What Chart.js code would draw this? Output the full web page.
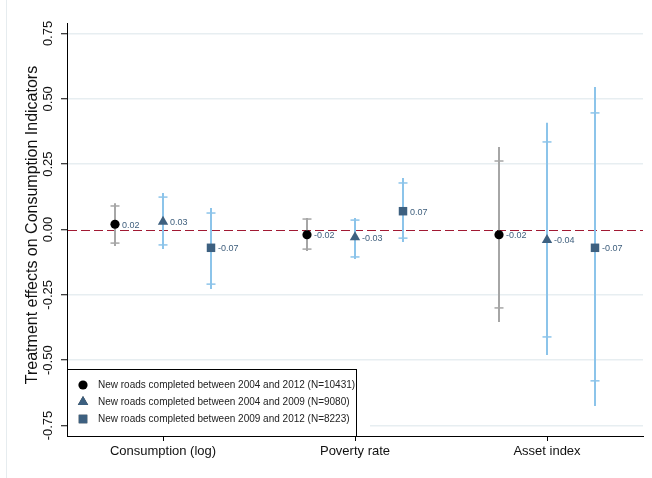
<!DOCTYPE html>
<html>
<head>
<meta charset="utf-8">
<script src="https://cdn.jsdelivr.net/npm/chart.js@4/dist/chart.umd.min.js"></script>
<style>
  html, body { margin: 0; padding: 0; background: #ffffff; }
  canvas { display: block; }
</style>
</head>
<body>
<canvas id="c" width="652" height="478"></canvas>
<script>
// Outcome categories along the x axis
const categories = ['Consumption (log)', 'Poverty rate', 'Asset index'];

// Sample definitions shown in the legend
const seriesLabels = [
  'New roads completed between 2004 and 2012 (N=10431)',
  'New roads completed between 2004 and 2009 (N=9080)',
  'New roads completed between 2009 and 2012 (N=8223)'
];

// Point estimates per sample (one value per category)
const coef2004_2012 = [0.02, -0.02, -0.02];
const coef2004_2009 = [0.03, -0.03, -0.04];
const coef2009_2012 = [-0.07, 0.07, -0.07];

// Wide confidence interval (line ends): [low, high] per category
const wide2004_2012 = [[-0.063, 0.100], [-0.082, 0.044], [-0.354, 0.316]];
const wide2004_2009 = [[-0.075, 0.140], [-0.113, 0.044], [-0.480, 0.408]];
const wide2009_2012 = [[-0.228, 0.082], [-0.048, 0.197], [-0.675, 0.545]];

// Narrow confidence interval (cap marks): [low, high] per category
const narrow2004_2012 = [[-0.052, 0.090], [-0.075, 0.040], [-0.300, 0.262]];
const narrow2004_2009 = [[-0.059, 0.124], [-0.105, 0.036], [-0.411, 0.335]];
const narrow2009_2012 = [[-0.209, 0.063], [-0.033, 0.178], [-0.579, 0.446]];

// Y axis tick values
const yTicks = [-0.75, -0.5, -0.25, 0, 0.25, 0.5, 0.75];

const FONT = "'Liberation Sans', Arial, Helvetica, sans-serif";
const markerColor = '#3d6080';
const ciBlue = '#8cc4ea';
const ciGray = '#a6a6a6';

const groups = [
  { label: seriesLabels[0], coef: coef2004_2012, wide: wide2004_2012, narrow: narrow2004_2012,
    offset: -0.25, style: 'circle', radius: 4.6, fill: '#000000', ci: ciGray },
  { label: seriesLabels[1], coef: coef2004_2009, wide: wide2004_2009, narrow: narrow2004_2009,
    offset: 0, style: 'triangle', radius: 6, fill: markerColor, ci: ciBlue },
  { label: seriesLabels[2], coef: coef2009_2012, wide: wide2009_2012, narrow: narrow2009_2012,
    offset: 0.25, style: 'rect', radius: 6, fill: markerColor, ci: ciBlue }
];

const datasets = groups.map(g => ({
  label: g.label,
  data: g.coef.map((v, i) => ({ x: i + 1 + g.offset, y: v })),
  pointStyle: g.style,
  pointRadius: g.radius,
  pointBorderWidth: 0,
  backgroundColor: g.fill,
  borderColor: g.fill,
  ciColor: g.ci,
  wide: g.wide,
  narrow: g.narrow
}));

// Zero reference line and confidence intervals, drawn under the markers
const intervalPlugin = {
  id: 'intervals',
  beforeDatasetsDraw(chart) {
    const { ctx, chartArea, scales: { x, y } } = chart;
    ctx.save();
    // dashed zero line
    ctx.strokeStyle = '#a11a33';
    ctx.lineWidth = 1;
    ctx.setLineDash([9, 4]);
    const y0 = Math.round(y.getPixelForValue(0)) + 0.5;
    ctx.beginPath();
    ctx.moveTo(chartArea.left + 1, y0);
    ctx.lineTo(chartArea.right, y0);
    ctx.stroke();
    ctx.setLineDash([]);

    chart.data.datasets.forEach(ds => {
      ds.data.forEach((pt, i) => {
        const px = x.getPixelForValue(pt.x);
        ctx.strokeStyle = ds.ciColor;
        ctx.lineWidth = 2;
        ctx.beginPath();
        ctx.moveTo(px, y.getPixelForValue(ds.wide[i][0]));
        ctx.lineTo(px, y.getPixelForValue(ds.wide[i][1]));
        ctx.stroke();
        ctx.lineWidth = 1.5;
        ds.narrow[i].forEach(v => {
          const py = y.getPixelForValue(v);
          ctx.beginPath();
          ctx.moveTo(px - 4.5, py);
          ctx.lineTo(px + 4.5, py);
          ctx.stroke();
        });
      });
    });
    ctx.restore();
  },
  afterDatasetsDraw(chart) {
    const { ctx, scales: { x, y } } = chart;
    ctx.save();
    ctx.font = '9px ' + FONT;
    ctx.fillStyle = '#40607e';
    ctx.textAlign = 'left';
    ctx.textBaseline = 'middle';
    chart.data.datasets.forEach(ds => {
      ds.data.forEach(pt => {
        ctx.fillText(pt.y.toFixed(2), x.getPixelForValue(pt.x) + 7, y.getPixelForValue(pt.y) + 1);
      });
    });
    ctx.restore();
  }
};

// Rotated y tick labels, axis title and the inset legend
const annotationPlugin = {
  id: 'annotations',
  afterDraw(chart) {
    const { ctx, chartArea, scales: { y } } = chart;
    ctx.save();
    ctx.fillStyle = '#111111';
    ctx.textAlign = 'center';
    ctx.textBaseline = 'middle';
    ctx.font = '13px ' + FONT;
    yTicks.forEach(v => {
      ctx.save();
      ctx.translate(48, y.getPixelForValue(v));
      ctx.rotate(-Math.PI / 2);
      ctx.fillText(v.toFixed(2), 0, 0);
      ctx.restore();
    });

    ctx.font = '16px ' + FONT;
    ctx.save();
    ctx.translate(33, 225);
    ctx.rotate(-Math.PI / 2);
    ctx.fillText('Treatment effects on Consumption Indicators', 0, 0);
    ctx.restore();

    // legend box
    const bx = chartArea.left, by = 369, bw = 356 - chartArea.left, bh = chartArea.bottom - 369;
    ctx.fillStyle = '#ffffff';
    ctx.fillRect(bx, by, bw + 14, bh);
    ctx.strokeStyle = '#000000';
    ctx.lineWidth = 1;
    ctx.strokeRect(bx + 0.5, by + 0.5, bw, bh);

    const rows = [385, 402, 419];
    ctx.font = '10px ' + FONT;
    ctx.textAlign = 'left';
    chart.data.datasets.forEach((ds, i) => {
      Chart.helpers.drawPoint(ctx, {
        pointStyle: ds.pointStyle,
        radius: ds.pointRadius,
        borderWidth: 0,
        rotation: 0
      }, 83, rows[i]);
      ctx.fillStyle = ds.backgroundColor;
      ctx.fill();
      ctx.fillStyle = '#222222';
      ctx.fillText(ds.label, 98, rows[i] + 0.5);
    });
    ctx.restore();

    // faint outer frame
    ctx.save();
    ctx.strokeStyle = '#e6ecef';
    ctx.lineWidth = 1;
    ctx.beginPath();
    ctx.moveTo(6.5, 0);
    ctx.lineTo(6.5, 478);
    ctx.stroke();
    ctx.restore();
  }
};

new Chart(document.getElementById('c'), {
  type: 'scatter',
  data: { datasets },
  options: {
    responsive: false,
    animation: false,
    devicePixelRatio: 1,
    layout: { padding: { left: 0, top: 23, right: 9, bottom: 0 } },
    plugins: { legend: { display: false }, tooltip: { enabled: false } },
    scales: {
      x: {
        type: 'linear',
        min: 0.5,
        max: 3.5,
        afterBuildTicks: s => { s.ticks = categories.map((c, i) => ({ value: i + 1 })); },
        afterFit: s => { s.height = 42; },
        ticks: {
          callback: v => categories[v - 1],
          font: { size: 13, family: FONT },
          color: '#111111',
          padding: 3,
          maxRotation: 0
        },
        grid: { drawOnChartArea: false, tickLength: 5, tickColor: '#000000', tickWidth: 1 },
        border: { color: '#000000', width: 1 }
      },
      y: {
        type: 'linear',
        min: -0.79,
        max: 0.79,
        afterBuildTicks: s => { s.ticks = yTicks.map(v => ({ value: v })); },
        afterFit: s => { s.width = 67; },
        ticks: { display: false },
        grid: {
          color: c => (c.tick && c.tick.value === 0 ? 'rgba(0,0,0,0)' : '#e7eef1'),
          lineWidth: 1.5,
          tickLength: 6,
          tickColor: '#000000',
          tickWidth: 1
        },
        border: { color: '#000000', width: 1 }
      }
    }
  },
  plugins: [intervalPlugin, annotationPlugin]
});
</script>
</body>
</html>
